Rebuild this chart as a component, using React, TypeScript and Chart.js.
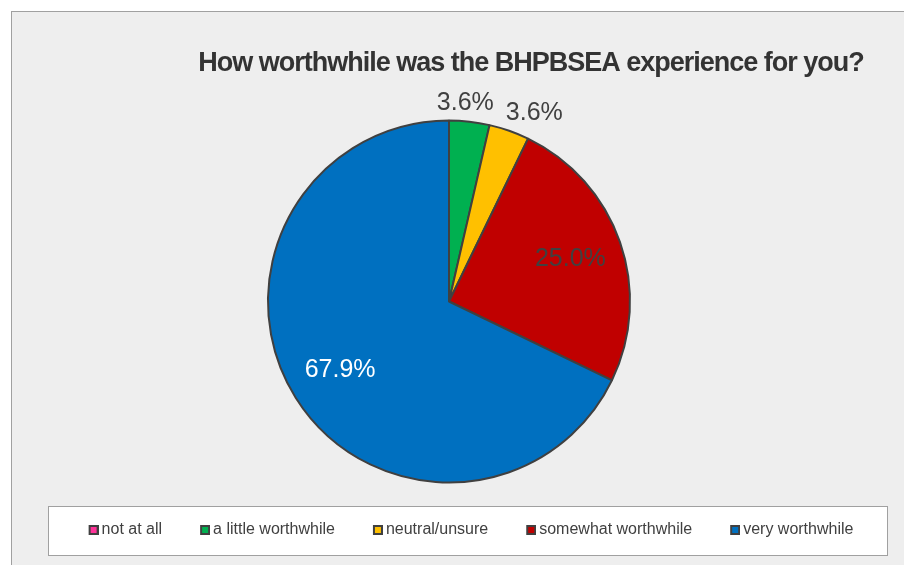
import React, { useEffect, useRef } from "react";
import { Chart, registerables, DoughnutController } from "chart.js";

Chart.register(...registerables);

const TITLE = "How worthwhile was the BHPBSEA experience for you?";
const categories = [
  "not at all",
  "a little worthwhile",
  "neutral/unsure",
  "somewhat worthwhile",
  "very worthwhile",
];
const percentValues = [0, 3.6, 3.6, 25.0, 67.9];
const sliceColors = ["#ff3399", "#00b050", "#ffc000", "#c00000", "#0070c0"];
const labelColors = ["#404040", "#404040", "#404040", "#404040", "#ffffff"];

const FONT = '"Liberation Sans", Arial, Helvetica, sans-serif';

function makeMarker(color: string) {
  const c = document.createElement("canvas");
  c.width = 20;
  c.height = 10;
  const g = c.getContext("2d")!;
  g.fillStyle = "#404040";
  g.fillRect(10, 0, 10, 10);
  g.fillStyle = color;
  g.fillRect(12, 2, 6, 6);
  return c;
}

const titlePlugin = {
  id: "customTitle",
  afterDraw(chart: any) {
    const ctx = chart.ctx;
    ctx.save();
    ctx.font = `bold 27px ${FONT}`;
    try {
      (ctx as any).letterSpacing = "-1px";
    } catch (e) {}
    ctx.fillStyle = "#333333";
    ctx.textAlign = "center";
    ctx.textBaseline = "alphabetic";
    ctx.fillText(TITLE, 519, 59);
    ctx.restore();
  },
};

const legendBoxPlugin = {
  id: "legendBox",
  beforeDraw(chart: any) {
    const legend = chart.legend;
    if (!legend || !legend.legendHitBoxes || !legend.legendHitBoxes.length) return;
    const hb = legend.legendHitBoxes;
    const first = hb[0];
    const last = hb[hb.length - 1];
    const cy = first.top + first.height / 2;
    const x0 = Math.round(first.left - 36);
    const x1 = Math.round(last.left + last.width + 34);
    const h = 49;
    const y0 = Math.round(cy - h / 2);
    const ctx = chart.ctx;
    ctx.save();
    ctx.fillStyle = "#ffffff";
    ctx.fillRect(x0, y0, x1 - x0, h);
    ctx.strokeStyle = "#a0a0a0";
    ctx.lineWidth = 1;
    ctx.strokeRect(x0 + 0.5, y0 + 0.5, x1 - x0, h);
    ctx.restore();
  },
};

const sliceLabelPlugin = {
  id: "sliceLabels",
  afterDatasetsDraw(chart: any) {
    const meta = chart.getDatasetMeta(0);
    const data = chart.data.datasets[0].data as number[];
    const ctx = chart.ctx;
    ctx.save();
    ctx.font = `25px ${FONT}`;
    ctx.textBaseline = "middle";
    ctx.textAlign = "center";
    type L = { x: number; y: number; w: number; text: string; color: string; outside: boolean };
    const labels: L[] = [];
    meta.data.forEach((arc: any, i: number) => {
      const v = data[i];
      if (!v) return;
      const p = arc.getProps(["x", "y", "startAngle", "endAngle", "outerRadius"], true);
      const mid = (p.startAngle + p.endAngle) / 2;
      const outside = v < 10;
      const r = outside ? p.outerRadius + 19 : p.outerRadius * 0.71;
      const text = v.toFixed(1) + "%";
      labels.push({
        x: p.x + Math.cos(mid) * r,
        y: p.y + Math.sin(mid) * r,
        w: ctx.measureText(text).width,
        text,
        color: labelColors[i],
        outside,
      });
    });
    const outs = labels.filter((l) => l.outside).sort((a, b) => a.x - b.x);
    for (let k = 1; k < outs.length; k++) {
      const a = outs[k - 1];
      const b = outs[k];
      const need = (a.w + b.w) / 2 + 12;
      const d = b.x - a.x;
      if (d < need && Math.abs(a.y - b.y) < 26) {
        a.x -= (need - d) * 0.25;
        b.x += (need - d) * 0.75;
      }
    }
    labels.forEach((l) => {
      ctx.fillStyle = l.color;
      ctx.fillText(l.text, l.x, l.y);
    });
    ctx.restore();
  },
};

export default function App() {
  const ref = useRef<HTMLCanvasElement | null>(null);

  useEffect(() => {
    if (!ref.current) return;
    const baseGen = (DoughnutController as any).overrides.plugins.legend.labels.generateLabels;
    const chart = new Chart(ref.current, {
      type: "pie",
      data: {
        labels: categories,
        datasets: [
          {
            data: percentValues,
            backgroundColor: sliceColors,
            borderColor: "#404040",
            borderWidth: 2,
          },
        ],
      },
      options: {
        responsive: false,
        animation: false,
        devicePixelRatio: 1,
        radius: 181,
        layout: { padding: { top: 102, bottom: 17, left: 0, right: 0 } },
        plugins: {
          title: { display: false },
          subtitle: {
            display: true,
            position: "right",
            text: "",
            font: { size: 10, lineHeight: 1 },
            padding: { top: 14.5, bottom: 14.5 },
          },
          legend: {
            display: true,
            position: "bottom",
            align: "center",
            labels: {
              boxWidth: 10,
              boxHeight: 10,
              usePointStyle: true,
              padding: 33,
              color: "#404040",
              font: { size: 16, family: FONT },
              generateLabels: (c: any) =>
                baseGen(c).map((it: any, i: number) => ({
                  ...it,
                  pointStyle: makeMarker(sliceColors[i]),
                })),
            },
          },
          tooltip: { enabled: false },
        },
      } as any,
      plugins: [legendBoxPlugin, sliceLabelPlugin, titlePlugin],
    });
    return () => chart.destroy();
  }, []);

  return (
    <div
      style={{
        position: "fixed",
        left: 11,
        top: 11,
        width: 913,
        height: 553,
        background: "#eeeeee",
        borderTop: "1px solid #a0a0a0",
        borderLeft: "1px solid #a0a0a0",
        overflow: "hidden",
      }}
    >
      <canvas ref={ref} width={913} height={553} style={{ display: "block", width: 913, height: 553 }} />
    </div>
  );
}
